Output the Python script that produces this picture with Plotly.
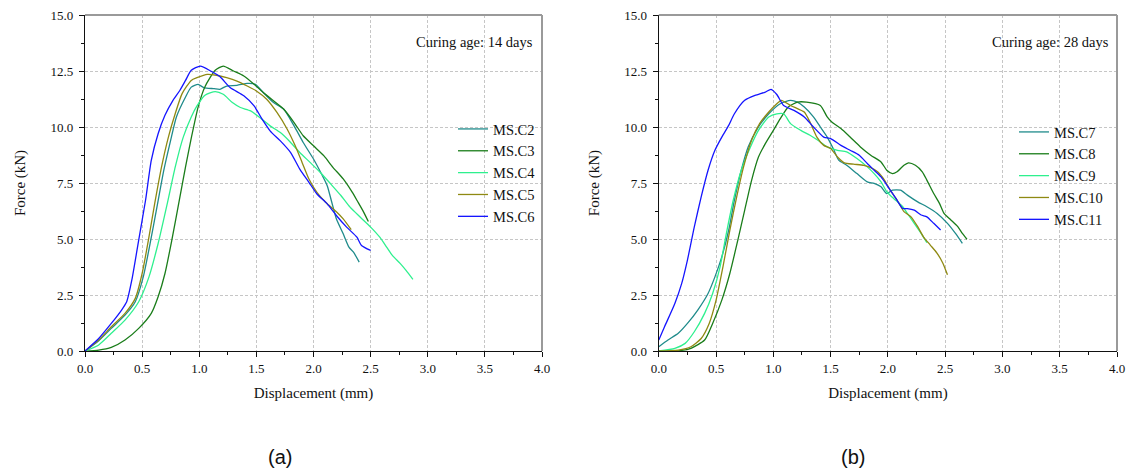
import plotly.graph_objects as go

# ---------------- data ----------------
names_14 = ["MS.C2", "MS.C3", "MS.C4", "MS.C5", "MS.C6"]
names_28 = ["MS.C7", "MS.C8", "MS.C9", "MS.C10", "MS.C11"]

c2_x = [0, 0.12, 0.23, 0.35, 0.44, 0.51, 0.57, 0.63, 0.69, 0.75, 0.80, 0.88, 0.93, 0.99, 1.04, 1.13, 1.18, 1.24, 1.33, 1.42, 1.49, 1.56, 1.65, 1.74, 1.83, 1.91, 2.00, 2.07, 2.12, 2.16, 2.20, 2.26, 2.31, 2.35, 2.40]
c2_y = [0, 0.46, 1.01, 1.60, 2.20, 3.31, 4.80, 6.43, 8.07, 9.41, 10.45, 11.34, 11.78, 11.90, 11.76, 11.71, 11.68, 11.83, 11.86, 11.95, 11.91, 11.54, 11.09, 10.79, 10.05, 9.31, 8.57, 7.90, 7.38, 6.64, 5.90, 5.23, 4.64, 4.41, 3.97]

c3_x = [0, 0.12, 0.23, 0.35, 0.47, 0.58, 0.64, 0.70, 0.76, 0.82, 0.88, 0.93, 0.99, 1.05, 1.14, 1.21, 1.30, 1.39, 1.48, 1.56, 1.65, 1.74, 1.83, 1.91, 2.00, 2.09, 2.17, 2.26, 2.34, 2.39, 2.44, 2.48]
c3_y = [0, 0.04, 0.16, 0.49, 1.01, 1.68, 2.42, 3.46, 4.95, 6.58, 8.22, 9.50, 10.89, 11.80, 12.53, 12.72, 12.50, 12.28, 11.91, 11.54, 11.17, 10.79, 10.20, 9.61, 9.16, 8.72, 8.20, 7.68, 7.08, 6.64, 6.19, 5.78]

c4_x = [0, 0.12, 0.23, 0.35, 0.47, 0.56, 0.64, 0.72, 0.79, 0.86, 0.93, 0.98, 1.05, 1.14, 1.21, 1.29, 1.36, 1.45, 1.53, 1.62, 1.71, 1.80, 1.88, 1.97, 2.06, 2.15, 2.24, 2.32, 2.41, 2.50, 2.58, 2.64, 2.69, 2.76, 2.81, 2.87]
c4_y = [0, 0.27, 0.79, 1.38, 2.20, 3.31, 4.80, 6.58, 8.22, 9.55, 10.45, 10.94, 11.42, 11.58, 11.46, 11.09, 10.87, 10.72, 10.42, 10.05, 9.75, 9.31, 8.86, 8.42, 7.97, 7.46, 6.94, 6.42, 5.97, 5.53, 5.08, 4.64, 4.27, 3.90, 3.60, 3.20]

c5_x = [0, 0.12, 0.23, 0.35, 0.44, 0.50, 0.555, 0.61, 0.67, 0.73, 0.79, 0.85, 0.93, 0.98, 1.07, 1.15, 1.24, 1.33, 1.42, 1.50, 1.59, 1.68, 1.77, 1.84, 1.90, 1.96, 2.03, 2.12, 2.20, 2.26, 2.33]
c5_y = [0, 0.49, 1.08, 1.68, 2.35, 3.46, 4.95, 6.58, 8.22, 9.55, 10.60, 11.49, 12.08, 12.20, 12.35, 12.31, 12.20, 12.05, 11.83, 11.61, 11.24, 10.65, 9.90, 9.16, 8.42, 7.68, 7.08, 6.57, 6.22, 5.90, 5.42]

c6_x = [0, 0.12, 0.23, 0.32, 0.365, 0.41, 0.47, 0.53, 0.58, 0.64, 0.70, 0.77, 0.83, 0.88, 0.93, 1.01, 1.10, 1.18, 1.27, 1.39, 1.48, 1.55, 1.62, 1.71, 1.80, 1.88, 1.96, 2.03, 2.12, 2.20, 2.29, 2.38, 2.42, 2.50]
c6_y = [0, 0.56, 1.23, 1.83, 2.20, 3.17, 4.95, 6.73, 8.51, 9.70, 10.52, 11.19, 11.63, 12.08, 12.53, 12.72, 12.50, 12.25, 11.76, 11.39, 10.94, 10.35, 9.83, 9.38, 8.86, 8.12, 7.53, 7.01, 6.57, 6.05, 5.53, 5.08, 4.71, 4.49]

c7_x = [0, 0.08, 0.17, 0.25, 0.34, 0.43, 0.49, 0.55, 0.61, 0.66, 0.72, 0.78, 0.87, 0.96, 1.06, 1.15, 1.21, 1.27, 1.35, 1.41, 1.47, 1.53, 1.57, 1.64, 1.73, 1.82, 1.88, 1.94, 1.99, 2.04, 2.11, 2.17, 2.26, 2.34, 2.43, 2.52, 2.59, 2.65]
c7_y = [0.19, 0.49, 0.79, 1.23, 1.83, 2.57, 3.31, 4.20, 5.39, 6.73, 8.07, 9.11, 10.0, 10.59, 11.04, 11.19, 11.11, 10.89, 10.45, 10.0, 9.55, 8.96, 8.52, 8.29, 7.92, 7.55, 7.48, 7.33, 7.03, 7.18, 7.18, 6.96, 6.66, 6.44, 6.14, 5.70, 5.25, 4.81]

c8_x = [0, 0.17, 0.28, 0.40, 0.47, 0.55, 0.62, 0.69, 0.75, 0.81, 0.87, 0.93, 1.00, 1.07, 1.13, 1.21, 1.29, 1.41, 1.47, 1.51, 1.59, 1.67, 1.76, 1.85, 1.94, 1.99, 2.04, 2.08, 2.14, 2.18, 2.24, 2.30, 2.34, 2.40, 2.45, 2.49, 2.55, 2.61, 2.65, 2.69]
c8_y = [0, 0.01, 0.12, 0.49, 1.23, 2.27, 3.46, 4.95, 6.29, 7.62, 8.66, 9.26, 9.85, 10.45, 10.89, 11.11, 11.11, 10.96, 10.45, 10.22, 9.93, 9.55, 9.11, 8.74, 8.44, 8.07, 7.92, 8.00, 8.29, 8.40, 8.29, 8.00, 7.63, 7.03, 6.59, 6.14, 5.85, 5.55, 5.25, 4.99]

c9_x = [0, 0.14, 0.23, 0.31, 0.40, 0.47, 0.535, 0.59, 0.65, 0.72, 0.80, 0.87, 0.96, 1.03, 1.09, 1.15, 1.24, 1.32, 1.41, 1.47, 1.56, 1.64, 1.73, 1.82, 1.88, 1.94, 1.99, 2.05, 2.13, 2.17, 2.23, 2.29, 2.34]
c9_y = [0, 0.12, 0.34, 0.86, 1.68, 2.57, 3.76, 5.25, 6.73, 8.07, 9.11, 9.85, 10.45, 10.59, 10.59, 10.15, 9.85, 9.63, 9.33, 9.11, 8.96, 8.89, 8.59, 8.22, 7.92, 7.55, 7.11, 6.81, 6.44, 6.14, 5.70, 5.25, 4.84]

c10_x = [0, 0.17, 0.28, 0.37, 0.44, 0.50, 0.56, 0.62, 0.68, 0.74, 0.81, 0.88, 0.96, 1.03, 1.07, 1.15, 1.21, 1.27, 1.32, 1.38, 1.44, 1.50, 1.56, 1.62, 1.70, 1.79, 1.85, 1.91, 1.97, 2.02, 2.08, 2.14, 2.20, 2.26, 2.31, 2.37, 2.43, 2.48, 2.52]
c10_y = [0, 0.04, 0.19, 0.56, 1.23, 2.27, 3.76, 5.39, 6.88, 8.22, 9.41, 10.15, 10.67, 11.04, 11.19, 10.96, 10.82, 10.67, 10.22, 9.55, 9.18, 9.04, 8.66, 8.40, 8.34, 8.29, 8.19, 8.00, 7.63, 7.18, 6.74, 6.22, 6.00, 5.55, 5.10, 4.73, 4.36, 3.92, 3.40]

c11_x = [0, 0.05, 0.14, 0.20, 0.25, 0.31, 0.37, 0.43, 0.49, 0.55, 0.61, 0.66, 0.75, 0.84, 0.93, 0.98, 1.03, 1.09, 1.18, 1.27, 1.35, 1.44, 1.50, 1.59, 1.67, 1.75, 1.82, 1.88, 1.94, 2.01, 2.07, 2.13, 2.17, 2.23, 2.29, 2.34, 2.40, 2.46]
c11_y = [0.49, 1.08, 2.12, 3.02, 4.06, 5.54, 6.88, 8.07, 8.96, 9.55, 10.07, 10.59, 11.19, 11.41, 11.56, 11.68, 11.45, 10.96, 10.74, 10.45, 10.00, 9.55, 9.48, 9.18, 8.96, 8.74, 8.37, 8.07, 7.77, 7.26, 6.81, 6.36, 6.36, 6.29, 6.07, 5.99, 5.70, 5.40]

x_tick_vals = [0, 0.5, 1.0, 1.5, 2.0, 2.5, 3.0, 3.5, 4.0]
y_tick_vals = [0, 2.5, 5.0, 7.5, 10.0, 12.5, 15.0]
annot_14 = "Curing age: 14 days"
annot_28 = "Curing age: 28 days"
panel_labels = ["(a)", "(b)"]

colors = ["#1f8b8b", "#1a7d1a", "#2ef08e", "#8f8912", "#1515ff"]

# ---------------- figure ----------------
fig = go.Figure()
SERIF = "Liberation Serif"

left = [(c2_x, c2_y), (c3_x, c3_y), (c4_x, c4_y), (c5_x, c5_y), (c6_x, c6_y)]
right = [(c7_x, c7_y), (c8_x, c8_y), (c9_x, c9_y), (c10_x, c10_y), (c11_x, c11_y)]

for i, (xs, ys) in enumerate(left):
    fig.add_trace(go.Scatter(x=xs, y=ys, mode="lines", name=names_14[i],
                             line=dict(color=colors[i], width=1.3, shape="spline", smoothing=0.6),
                             xaxis="x", yaxis="y", legend="legend"))
for i, (xs, ys) in enumerate(right):
    fig.add_trace(go.Scatter(x=xs, y=ys, mode="lines", name=names_28[i],
                             line=dict(color=colors[i], width=1.3, shape="spline", smoothing=0.6),
                             xaxis="x2", yaxis="y2", legend="legend2"))

W, H = 1128, 471
ml, mr, mt, mb = 85, 11, 15, 120
pw = W - ml - mr
ph = H - mt - mb


def px_x(p):
    return (p - ml) / pw


def px_y(p):
    return 1 - (p - mt) / ph


common_x = dict(range=[0, 4], tickvals=x_tick_vals, tickformat=".1f", automargin=False,
                showline=True, linecolor="#111", linewidth=1.3,
                ticks="outside", ticklen=5, tickwidth=1, tickcolor="#111",
                minor=dict(ticks="outside", ticklen=3, dtick=0.25, tickcolor="#111", showgrid=False),
                showgrid=True, gridcolor="#c6c6c6", griddash="3px,2px", gridwidth=1,
                zeroline=False, tickfont=dict(family=SERIF, size=13, color="#111"),
                title=dict(text="Displacement (mm)", font=dict(family=SERIF, size=15, color="#111"), standoff=12))
common_y = dict(range=[0, 15], tickvals=y_tick_vals, tickformat=".1f", automargin=False,
                showline=True, linecolor="#111", linewidth=1.3,
                ticks="outside", ticklen=5, tickwidth=1, tickcolor="#111", ticklabelstandoff=3,
                minor=dict(ticks="outside", ticklen=3, dtick=1.25, tickcolor="#111", showgrid=False),
                showgrid=True, gridcolor="#c6c6c6", griddash="3px,2px", gridwidth=1,
                zeroline=False, tickfont=dict(family=SERIF, size=13, color="#111"),
                title=dict(text="Force (kN)", font=dict(family=SERIF, size=15, color="#111"), standoff=21))

fig.update_layout(
    width=W, height=H,
    margin=dict(l=ml, r=mr, t=mt, b=mb, autoexpand=False),
    plot_bgcolor="white", paper_bgcolor="white",
    xaxis=dict(domain=[0, px_x(542)], anchor="y", **common_x),
    yaxis=dict(domain=[0, 1], anchor="x", **common_y),
    xaxis2=dict(domain=[px_x(658.8), 1], anchor="y2", **common_x),
    yaxis2=dict(domain=[0, 1], anchor="x2", **common_y),
    legend=dict(x=px_x(453), y=px_y(113), xanchor="left", yanchor="top",
                bgcolor="rgba(0,0,0,0)", font=dict(family=SERIF, size=14.5, color="#111"),
                itemwidth=30, tracegroupgap=0),
    legend2=dict(x=px_x(1014), y=px_y(116), xanchor="left", yanchor="top",
                 bgcolor="rgba(0,0,0,0)", font=dict(family=SERIF, size=14.5, color="#111"),
                 itemwidth=30, tracegroupgap=0),
    showlegend=True,
)

# grey top/right frame lines (Origin style box)
for xa, ya in [("x", "y"), ("x2", "y2")]:
    fig.add_shape(type="line", xref=f"{xa} domain", yref=f"{ya} domain", x0=0, x1=1, y0=1, y1=1,
                  line=dict(color="#9a9a9a", width=2))
    fig.add_shape(type="line", xref=f"{xa} domain", yref=f"{ya} domain", x0=1, x1=1, y0=0, y1=1,
                  line=dict(color="#9a9a9a", width=2))

fig.add_annotation(text=annot_14, xref="x domain", yref="y domain", x=0.985, y=0.9195,
                   xanchor="right", yanchor="middle", showarrow=False,
                   font=dict(family=SERIF, size=14.5, color="#111"))
fig.add_annotation(text=annot_28, xref="x2 domain", yref="y2 domain", x=0.986, y=0.9195,
                   xanchor="right", yanchor="middle", showarrow=False,
                   font=dict(family=SERIF, size=14.5, color="#111"))

fig.add_annotation(text=panel_labels[0], xref="paper", yref="paper", x=px_x(280), y=px_y(457),
                   xanchor="center", yanchor="middle", showarrow=False,
                   font=dict(family="Liberation Sans", size=20, color="#111"))
fig.add_annotation(text=panel_labels[1], xref="paper", yref="paper", x=px_x(853), y=px_y(457),
                   xanchor="center", yanchor="middle", showarrow=False,
                   font=dict(family="Liberation Sans", size=20, color="#111"))

fig.write_html("out.html", config={"displayModeBar": False},
               post_script="document.body.style.margin='0';document.body.style.overflow='hidden';")
